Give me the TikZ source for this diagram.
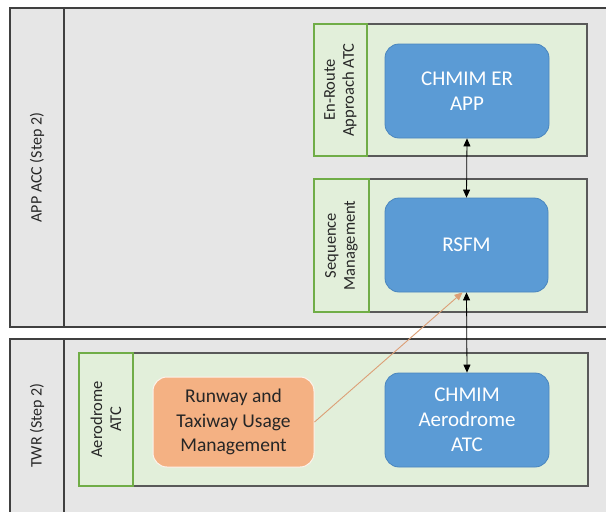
\documentclass[tikz,border=0pt]{standalone}
\usepackage{fontspec}
\setmainfont{Carlito}
\usetikzlibrary{arrows.meta,calc}
\definecolor{lanebg}{HTML}{E6E6E6}
\definecolor{laneline}{HTML}{404040}
\definecolor{contfill}{HTML}{E2EFDA}
\definecolor{contline}{HTML}{595959}
\definecolor{greenline}{HTML}{70AD47}
\definecolor{bluefill}{HTML}{5B9BD5}
\definecolor{blueline}{HTML}{4A86BE}
\definecolor{orangefill}{HTML}{F4B183}
\definecolor{orangeline}{HTML}{F4B183}
\definecolor{txt}{HTML}{262626}
\tikzset{
  lane/.style={fill=lanebg,draw=laneline,line width=1.3pt},
  cont/.style={fill=contfill,draw=contline,line width=1.2pt},
  contlabel/.style={draw=greenline,line width=1.2pt},
  vlabel/.style={rotate=90,align=center,font=\fontsize{16.5}{19}\selectfont,text=txt,inner sep=0pt},
  lanelabel/.style={rotate=90,align=center,font=\fontsize{16}{19}\selectfont,text=txt,inner sep=0pt},
  bluebox/.style={fill=bluefill,draw=blueline,line width=0.8pt,rounded corners=14pt,text=white,align=center,font=\fontsize{21}{25}\selectfont},
  orangebox/.style={fill=orangefill,draw=white!85!orangefill,line width=1pt,rounded corners=14pt,text=txt,align=center,font=\fontsize{19.5}{24.5}\selectfont},
  link/.style={draw=black,line width=0.8pt,{Triangle[length=8pt,width=7pt]}-{Triangle[length=8pt,width=7pt]}},
  olink/.style={draw=orangeline!90!black,line width=0.9pt,-{Triangle[length=8pt,width=7pt]}}
}
\begin{document}
\begin{tikzpicture}[x=1pt,y=-1pt]
\useasboundingbox (0,0) rectangle (606,512);
\fill[white] (0,0) rectangle (606,512);
\begin{scope}
\clip (0,0) rectangle (606,512);
% lanes
\draw[lane] (10,8) rectangle (640,327);
\draw[laneline,line width=1.3pt] (64,8) -- (64,327);
\draw[lane] (10,339) rectangle (640,540);
\draw[laneline,line width=1.3pt] (64,339) -- (64,540);
\node[lanelabel] (l1) at (37,167.5) {APP ACC (Step 2)};
\node[lanelabel] (l2) at (37,425.5) {TWR (Step 2)};
% containers
\draw[cont] (314,24) rectangle (587,156);
\draw[contlabel] (314,24) rectangle (367,156);
\node[vlabel] (c1) at (340.5,90) {En-Route\\Approach ATC};
\draw[cont] (314,179) rectangle (587,312);
\draw[contlabel] (314,179) rectangle (369,312);
\node[vlabel] (c2) at (341.5,245.5) {Sequence\\Management};
\draw[cont] (79,353) rectangle (588,486);
\draw[contlabel] (79,353) rectangle (133,486);
\node[vlabel] (c3) at (106,419.5) {Aerodrome\\ATC};
% boxes
\node[bluebox,minimum width=164pt,minimum height=94pt] (er) at (467,91) {CHMIM ER\\APP};
\node[bluebox,minimum width=163pt,minimum height=94pt] (rsfm) at (466.5,245) {RSFM};
\node[bluebox,minimum width=164pt,minimum height=94pt] (aero) at (467,420) {CHMIM\\Aerodrome\\ATC};
\node[orangebox,minimum width=161pt,minimum height=90pt] (rtu) at (233.5,422) {Runway and\\Taxiway Usage\\Management};
% connectors
\draw[link] (er.south) -- (rsfm.north);
\draw[link] (rsfm.south) -- (aero.north);
\draw[olink] (rtu.east) -- ([xshift=-4pt]rsfm.south);
\end{scope}
\end{tikzpicture}
\end{document}
